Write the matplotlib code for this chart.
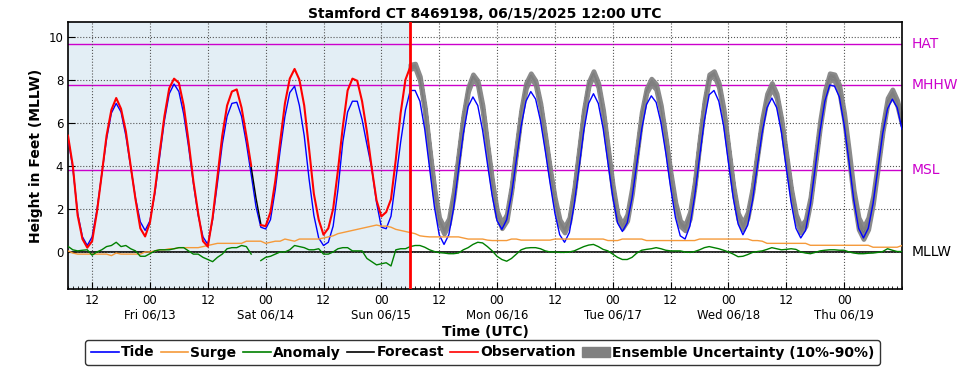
import numpy as np
import pandas as pd
import matplotlib
matplotlib.use('Agg')
import matplotlib.pyplot as plt
import matplotlib.dates as mdates
from matplotlib.lines import Line2D
from matplotlib.patches import Patch
from matplotlib.ticker import FuncFormatter, FixedLocator

# hourly data, hour 0 = 2025-06-12 07:00 UTC
t0 = pd.Timestamp('2025-06-12 07:00')
t_end = pd.Timestamp('2025-06-19 12:00')

tide = [5.3, 3.9, 1.8, 0.7, 0.3,
        0.7, 1.95, 3.6, 5.25, 6.45, 6.9,
        6.5, 5.4, 3.95, 2.5, 1.4, 1.0,
        1.45, 2.7, 4.4, 6.1, 7.35, 7.8,
        7.45, 6.4, 4.9, 3.2, 1.7, 0.7, 0.35,
        1.5, 3.2, 5.0, 6.3, 6.9, 6.95,
        6.3, 5.05, 3.6, 2.1, 1.15, 1.07,
        1.5, 2.9, 4.7, 6.3, 7.4, 7.7,
        6.8, 5.4, 3.4, 1.7, 0.65, 0.3,
        0.45, 1.2, 2.9, 5.1, 6.5, 7.0,
        7.0, 6.15, 5.0, 3.9, 2.3, 1.15,
        1.08, 1.66, 3.36, 5.1, 6.6, 7.5, 7.5,
        7.0, 5.7, 3.9, 2.1, 0.8, 0.35,
        0.8, 2.05, 3.8, 5.5, 6.75, 7.2,
        6.8, 5.65, 4.1, 2.6, 1.45, 1.05,
        1.5, 2.65, 4.25, 5.85, 7.0, 7.45,
        7.1, 6.1, 4.7, 3.2, 1.8, 0.8, 0.45,
        0.9, 2.2, 3.9, 5.65, 6.9, 7.35,
        6.9, 5.75, 4.15, 2.55, 1.35, 0.95,
        1.35, 2.5, 4.1, 5.7, 6.85, 7.25,
        6.95, 6.0, 4.6, 3.0, 1.6, 0.75, 0.6,
        1.2, 2.6, 4.4, 6.1, 7.3, 7.5,
        7.0, 5.85, 4.15, 2.5, 1.3, 0.8,
        1.25, 2.4, 4.0, 5.55, 6.7, 7.15,
        6.7, 5.55, 3.9, 2.3, 1.1, 0.65,
        1.0, 2.2, 3.9, 5.6, 7.0, 7.75, 7.7,
        7.2, 5.9, 4.2, 2.4, 1.1, 0.65,
        1.1, 2.25, 3.85, 5.5, 6.65, 7.1,
        6.7, 5.7]

surge = [0.05, -0.05, -0.1, -0.1, -0.1, -0.1, -0.1, -0.1, -0.1, -0.17, -0.05, -0.1,
         -0.1, -0.1, -0.1, -0.1, 0.0, 0.0, 0.05, 0.1, 0.1, 0.15, 0.15, 0.2,
         0.2, 0.2, 0.2, 0.2, 0.25, 0.3, 0.35, 0.4, 0.4, 0.4, 0.4, 0.4,
         0.4, 0.5, 0.5, 0.5, 0.5, 0.4, 0.45, 0.5, 0.5, 0.6, 0.55, 0.5,
         0.6, 0.6, 0.6, 0.6, 0.6, 0.65, 0.7, 0.75, 0.85, 0.9, 0.95, 1.0,
         1.05, 1.1, 1.15, 1.2, 1.25, 1.2, 1.2, 1.15, 1.05, 1.0, 0.95, 0.9,
         0.85, 0.75, 0.72, 0.7, 0.7, 0.7, 0.7, 0.7, 0.7, 0.7, 0.65, 0.6,
         0.6, 0.6, 0.6, 0.55, 0.53, 0.53, 0.53, 0.53, 0.6, 0.6, 0.55, 0.55,
         0.55, 0.55, 0.55, 0.55, 0.55, 0.6, 0.6, 0.6, 0.6, 0.6, 0.6, 0.6,
         0.6, 0.6, 0.6, 0.6, 0.53, 0.53, 0.53, 0.6, 0.6, 0.6, 0.6, 0.6,
         0.53, 0.53, 0.53, 0.53, 0.53, 0.53, 0.53, 0.53, 0.53, 0.53, 0.53, 0.6,
         0.6, 0.6, 0.6, 0.6, 0.6, 0.6, 0.6, 0.6, 0.6, 0.6, 0.53, 0.53,
         0.5, 0.4, 0.4, 0.4, 0.4, 0.4, 0.4, 0.4, 0.4, 0.4, 0.31, 0.31,
         0.31, 0.31, 0.31, 0.31, 0.31, 0.31, 0.31, 0.31, 0.31, 0.31, 0.31, 0.22,
         0.22, 0.22, 0.22, 0.22, 0.22, 0.3]

anomaly = [0.26, 0.1, 0.05, 0.08, 0.1, -0.15, 0.0, 0.1, 0.25, 0.3, 0.45, 0.25,
           0.3, 0.15, 0.05, -0.2, -0.2, -0.08, 0.05, 0.1, 0.1, 0.1, 0.15, 0.2,
           0.2, 0.05, -0.1, -0.1, -0.25, -0.35, -0.45, -0.25, -0.1, 0.15, 0.2, 0.2,
           0.3, 0.25, -0.1, np.nan, -0.4, -0.25, -0.2, -0.1, 0.0, 0.0, 0.1, 0.3,
           0.25, 0.2, 0.1, 0.1, 0.15, -0.1, -0.1, 0.0, 0.15, 0.2, 0.2, 0.05,
           0.05, 0.05, -0.3, -0.45, -0.6, -0.55, -0.5, -0.65, 0.1, 0.15, 0.15, 0.25,
           0.3, 0.3, 0.22, 0.1, 0.02, -0.03, -0.05, -0.08, -0.08, -0.05, 0.1, 0.2,
           0.35, 0.45, 0.42, 0.25, 0.05, -0.2, -0.35, -0.43, -0.3, -0.1, 0.1, 0.18,
           0.2, 0.2, 0.15, 0.05, 0.0, 0.0, -0.02, -0.02, 0.0, 0.05, 0.15, 0.25,
           0.32, 0.35, 0.25, 0.12, 0.05, -0.1, -0.25, -0.35, -0.35, -0.25, -0.05, 0.08,
           0.12, 0.15, 0.2, 0.15, 0.08, 0.05, 0.05, 0.05, 0.0, -0.02, 0.02, 0.1,
           0.2, 0.25, 0.2, 0.15, 0.08, 0.0, -0.1, -0.22, -0.2, -0.12, -0.02, 0.02,
           0.05, 0.12, 0.2, 0.15, 0.1, 0.12, 0.15, 0.12, 0.0, -0.05, -0.08, -0.02,
           0.05, 0.08, 0.1, 0.1, 0.08, 0.08, 0.0, -0.05, -0.08, -0.08, -0.06, -0.05,
           -0.02, 0.02, 0.15, 0.08, 0.02, 0.02]

# observations, hours 0-71
observation = [5.4, 4.0, 1.7, 0.6, 0.2,
               0.5, 1.85, 3.6, 5.4, 6.6, 7.15,
               6.65, 5.6, 4.0, 2.45, 1.1, 0.72,
               1.37, 2.8, 4.6, 6.3, 7.6, 8.05,
               7.85, 6.8, 5.15, 3.3, 1.8, 0.5, 0.25,
               1.6, 3.5, 5.4, 6.8, 7.45, 7.55,
               6.7, 5.4, 4.0, np.nan, 1.25, 1.2,
               1.85, 3.3, 5.1, 6.9, 8.05, 8.5,
               8.0, 6.8, 4.8, 2.7, 1.5, 0.8,
               1.1, 2.0, 3.8, 5.8, 7.5, 8.05,
               7.95, 7.0, 5.6, 3.9, 2.4, 1.65,
               1.85, 2.45, 4.3, 6.45, 8.0, 8.6]

# forecast visible in the observation gap, hours 38-40
forecast_gap = [3.95, 2.5, 1.3]

# forecast, hours 71-173
forecast = [8.6, 8.65, 8.05, 6.64, 4.7, 2.82, 1.47, 1.0,
            1.42, 2.67, 4.45, 6.25, 7.55, 8.15,
            7.85, 6.67, 4.9, 3.18, 1.78, 1.23,
            1.6, 2.95, 4.75, 6.5, 7.73, 8.2,
            7.85, 6.8, 5.3, 3.75, 2.4, 1.38, 1.03,
            1.5, 2.85, 4.65, 6.5, 7.82, 8.3,
            7.75, 6.47, 4.73, 2.98, 1.63, 1.2,
            1.6, 2.85, 4.65, 6.38, 7.5, 7.93,
            7.68, 6.68, 5.21, 3.58, 2.18, 1.33, 1.13,
            1.71, 3.15, 5.1, 6.9, 8.15, 8.3,
            7.75, 6.53, 4.75, 3.0, 1.68, 1.2,
            1.73, 2.91, 4.55, 6.1, 7.22, 7.75,
            7.25, 6.05, 4.42, 2.85, 1.62, 1.05,
            1.35, 2.43, 4.19, 5.96, 7.39, 8.16, 8.11,
            7.59, 6.29, 4.51, 2.66, 1.33, 0.88,
            1.35, 2.42, 4.05, 5.74, 7.02, 7.4,
            6.94, 6.02]

ens_hi = [8.7, 8.75, 8.15, 6.75, 4.8, 2.95, 1.6, 1.15,
          1.55, 2.8, 4.55, 6.35, 7.65, 8.25,
          7.95, 6.8, 5.0, 3.3, 1.9, 1.35,
          1.75, 3.05, 4.85, 6.6, 7.85, 8.3,
          7.95, 6.9, 5.4, 3.85, 2.5, 1.5, 1.15,
          1.6, 2.95, 4.75, 6.6, 7.9, 8.4,
          7.85, 6.6, 4.85, 3.1, 1.75, 1.3,
          1.75, 3.0, 4.75, 6.5, 7.6, 8.05,
          7.8, 6.8, 5.3, 3.7, 2.3, 1.45, 1.25,
          1.85, 3.25, 5.2, 7.0, 8.25, 8.4,
          7.85, 6.65, 4.85, 3.1, 1.8, 1.35,
          1.85, 3.0, 4.65, 6.2, 7.35, 7.85,
          7.35, 6.15, 4.55, 2.95, 1.75, 1.2,
          1.5, 2.55, 4.3, 6.1, 7.5, 8.3, 8.25,
          7.75, 6.45, 4.7, 2.85, 1.6, 1.15,
          1.6, 2.6, 4.2, 5.85, 7.15, 7.55,
          7.05, 6.15]

ens_lo = [8.5, 8.55, 7.95, 6.55, 4.6, 2.7, 1.35, 0.85,
          1.3, 2.55, 4.35, 6.15, 7.45, 8.05,
          7.75, 6.55, 4.8, 3.05, 1.65, 1.1,
          1.45, 2.85, 4.65, 6.4, 7.6, 8.1,
          7.75, 6.7, 5.2, 3.65, 2.3, 1.25, 0.9,
          1.4, 2.75, 4.55, 6.4, 7.7, 8.2,
          7.65, 6.35, 4.6, 2.85, 1.5, 1.1,
          1.45, 2.7, 4.55, 6.25, 7.4, 7.8,
          7.55, 6.55, 5.1, 3.45, 2.05, 1.2, 1.0,
          1.55, 3.05, 5.0, 6.8, 8.05, 8.2,
          7.65, 6.4, 4.65, 2.9, 1.55, 1.05,
          1.6, 2.8, 4.45, 6.0, 7.1, 7.6,
          7.15, 5.95, 4.3, 2.75, 1.5, 0.9,
          1.2, 2.3, 4.05, 5.8, 7.25, 8.0, 7.95,
          7.4, 6.1, 4.3, 2.45, 1.05, 0.6,
          1.05, 2.25, 3.9, 5.6, 6.9, 7.25,
          6.8, 5.9]

datums = {'HAT': 9.67, 'MHHW': 7.77, 'MSL': 3.81}
obs_end_hour = 71


def hours(start, n):
    return pd.date_range(t0 + pd.Timedelta(hours=start), periods=n, freq='h')


fig = plt.figure(figsize=(9.69, 3.70), dpi=100)
ax = fig.add_axes([68 / 969, 1 - 289 / 370, 834 / 969, 267 / 370])

obs_end = t0 + pd.Timedelta(hours=obs_end_hour)
ax.axvspan(t0, obs_end, color='#e3eef5', zorder=0)

for name, val in datums.items():
    ax.axhline(val, color='#cc00cc', lw=1.0, zorder=1)
    ax.text(1.011, val, name, color='#cc00cc', fontsize=10, va='center',
            transform=ax.get_yaxis_transform())
ax.axhline(0, color='black', lw=1.2, zorder=1)
ax.text(1.011, 0, 'MLLW', color='black', fontsize=10, va='center',
        transform=ax.get_yaxis_transform())

t_fc = hours(obs_end_hour, len(forecast))
ax.plot(t_fc, forecast, color='black', lw=0.9, zorder=2)
ax.fill_between(t_fc, ens_lo, ens_hi, facecolor='gray', edgecolor='gray',
                lw=3.4, alpha=0.92, zorder=2.5)
ax.plot(hours(0, len(tide)), tide, color='blue', lw=1.0, zorder=3)
ax.plot(hours(0, len(surge)), surge, color='#f59a3a', lw=1.0, zorder=3)
ax.plot(hours(0, len(anomaly)), anomaly, color='green', lw=1.0, zorder=3)
ax.plot(hours(38, len(forecast_gap)), forecast_gap, color='black', lw=1.0, zorder=4)
ax.plot(hours(0, len(observation)), observation, color='red', lw=1.5, zorder=5)
ax.axvline(obs_end, color='red', lw=2.0, zorder=6)

ax.set_xlim(t0, t_end)
ax.set_ylim(-1.72, 10.68)
ax.set_yticks([0, 2, 4, 6, 8, 10])

major_ticks = pd.date_range('2025-06-12 12:00', '2025-06-19 00:00', freq='12h')
ax.xaxis.set_major_locator(FixedLocator(mdates.date2num(major_ticks)))
ax.xaxis.set_minor_locator(mdates.HourLocator())


def tick_fmt(x, pos):
    d = mdates.num2date(x)
    if d.hour == 0:
        return d.strftime('00\n%a %m/%d')
    return d.strftime('%H')


ax.xaxis.set_major_formatter(FuncFormatter(tick_fmt))
ax.tick_params(axis='both', which='major', direction='in', length=5, labelsize=8.5)
ax.tick_params(axis='x', which='minor', direction='in', length=2.5)
ax.grid(True, which='major', linestyle=':', color='#555555', lw=0.8)
for sp in ax.spines.values():
    sp.set_linewidth(1.2)

ax.set_title('Stamford CT 8469198, 06/15/2025 12:00 UTC', fontsize=10, fontweight='bold', pad=3)
ax.set_ylabel('Height in Feet (MLLW)', fontsize=10, fontweight='bold')
ax.set_xlabel('Time (UTC)', fontsize=10, fontweight='bold', labelpad=2)

handles = [Line2D([], [], color='blue', lw=1.2),
           Line2D([], [], color='#f59a3a', lw=1.2),
           Line2D([], [], color='green', lw=1.2),
           Line2D([], [], color='black', lw=1.2),
           Line2D([], [], color='red', lw=1.2),
           Patch(facecolor='gray', edgecolor='gray')]
labels = ['Tide', 'Surge', 'Anomaly', 'Forecast', 'Observation',
          'Ensemble Uncertainty (10%-90%)']
leg = fig.legend(handles, labels, loc='upper center', bbox_to_anchor=(0.498, 1 - 333 / 370),
                 ncol=6, prop={'weight': 'bold', 'size': 10}, handlelength=2.0,
                 handletextpad=0.15, columnspacing=0.45, borderpad=0.4, fancybox=True,
                 edgecolor='black')
leg.get_frame().set_linewidth(1.0)

fig.savefig('out.png', dpi=100)
